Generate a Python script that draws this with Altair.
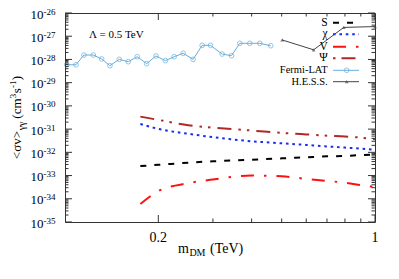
import altair as alt
import pandas as pd

FONT = "Liberation Serif"
W, H = 310, 209

# ---- data ----
m_theory = [0.175, 0.2, 0.25, 0.3, 0.4, 0.5, 0.6, 0.7, 0.8, 0.9, 1.0]
S_vals = [2.57e-33, 2.9e-33, 3.6e-33, 4.1e-33, 4.8e-33, 5.5e-33, 6.1e-33, 6.7e-33, 7.0e-33, 7.6e-33, 8.0e-33]
chi_vals = [1.66e-31, 1.02e-31, 6.3e-32, 4.5e-32, 3.0e-32, 2.45e-32, 2.08e-32, 1.8e-32, 1.6e-32, 1.44e-32, 1.3e-32]
V_vals = [5.9e-35, 2.14e-34, 4.7e-34, 6.8e-34, 1.0e-33, 9.3e-34, 7.2e-34, 5.9e-34, 4.9e-34, 3.9e-34, 3.2e-34]
Psi_vals = [3.45e-31, 2.5e-31, 1.47e-31, 1.15e-31, 8.7e-32, 6.9e-32, 5.9e-32, 5.2e-32, 4.8e-32, 4.3e-32, 3.7e-32]

fermi_m = [0.1013, 0.1085, 0.1151, 0.1234, 0.1313, 0.1396, 0.1496, 0.1600, 0.1710, 0.1834,
           0.1965, 0.2108, 0.2250, 0.2405, 0.2590, 0.2770, 0.2946, 0.3212, 0.3443, 0.3663,
           0.3945, 0.4249, 0.4610]
fermi_sv = [5.9e-29, 5.9e-29, 1.55e-28, 1.55e-28, 1.05e-28, 5.4e-29, 1.01e-28, 8.0e-29, 1.31e-28, 6.6e-29,
            1.41e-28, 8.9e-29, 1.31e-28, 1.84e-28, 1.01e-28, 4.06e-28, 4.06e-28, 1.71e-28, 1.45e-28, 4.96e-28,
            4.96e-28, 4.96e-28, 3.9e-28]

hess_m = [0.502, 0.634, 0.793, 1.0]
hess_sv = [6.9e-28, 2.6e-28, 2.4e-27, 2.6e-27]

y_decades = [-35, -34, -33, -32, -31, -30, -29, -28, -27, -26]
x_ticks = [0.2, 0.3, 0.4, 0.5, 0.6, 0.7, 0.8, 0.9, 1.0]
x_major = [0.2, 1.0]
x_labels = ["0.2", "1"]

legend_names = ["S", "χ", "V", "Ψ", "Fermi-LAT", "H.E.S.S."]
annotation = "Λ = 0.5 TeV"

# ---- scales ----
xs = alt.Scale(type="log", domain=[0.1, 1.0], nice=False)
ys = alt.Scale(type="log", domain=[1e-35, 1e-26], nice=False)
X = lambda f: alt.X(f, scale=xs, axis=None)
Y = lambda f: alt.Y(f, scale=ys, axis=None)

layers = []

BLUE = "#1a2cf0"
CHI_DASH = [2.6, 3.8]

# theory curves
styles = [
    (S_vals, "black", [6, 8], 2.0),
    (chi_vals, BLUE, CHI_DASH, 2.0),
    (V_vals, "#ff1010", [13, 10, 2.5, 10], 2.0),
    (Psi_vals, "#b02828", [14, 7, 2.5, 6, 2.5, 7], 2.0),
]
for vals, col, dash, sw in styles:
    df = pd.DataFrame({"m": m_theory, "sv": vals})
    layers.append(alt.Chart(df).mark_line(color=col, strokeDash=dash, strokeWidth=sw,
                                          interpolate="monotone")
                  .encode(x=X("m:Q"), y=Y("sv:Q")))

# Fermi-LAT
fdf = pd.DataFrame({"m": fermi_m, "sv": fermi_sv})
FCOL = "#66aede"
layers.append(alt.Chart(fdf).mark_line(color=FCOL, strokeWidth=1).encode(x=X("m:Q"), y=Y("sv:Q")))
layers.append(alt.Chart(fdf).mark_point(color=FCOL, shape="circle", filled=False, size=22, strokeWidth=1)
              .encode(x=X("m:Q"), y=Y("sv:Q")))

# H.E.S.S.
hdf = pd.DataFrame({"m": hess_m, "sv": hess_sv})
HCOL = "#444444"
layers.append(alt.Chart(hdf).mark_line(color=HCOL, strokeWidth=1).encode(x=X("m:Q"), y=Y("sv:Q")))
layers.append(alt.Chart(hdf).mark_point(color=HCOL, shape="triangle-up", filled=True, size=14)
              .encode(x=X("m:Q"), y=Y("sv:Q")))

# ---- inward ticks ----
ymaj = pd.DataFrame({"v": [10.0 ** d for d in y_decades]})
ymin = pd.DataFrame({"v": [k * 10.0 ** d for d in y_decades[:-1] for k in range(2, 10)]})
TC = "#333333"
for df, ln in [(ymaj, 7), (ymin, 3.5)]:
    layers.append(alt.Chart(df).mark_rule(color=TC, strokeWidth=1)
                  .encode(y=Y("v:Q"), x=alt.value(0), x2=alt.value(ln)))
    layers.append(alt.Chart(df).mark_rule(color=TC, strokeWidth=1)
                  .encode(y=Y("v:Q"), x=alt.value(W - ln), x2=alt.value(W)))
for v in x_ticks:
    ln = 7 if v in x_major else 3.5
    d = pd.DataFrame({"v": [v]})
    layers.append(alt.Chart(d).mark_rule(color=TC, strokeWidth=1)
                  .encode(x=X("v:Q"), y=alt.value(H - ln), y2=alt.value(H)))
    layers.append(alt.Chart(d).mark_rule(color=TC, strokeWidth=1)
                  .encode(x=X("v:Q"), y=alt.value(0), y2=alt.value(ln)))

# ---- tick labels ----
ylab = pd.DataFrame({"v": [10.0 ** d for d in y_decades],
                     "base": ["10"] * len(y_decades),
                     "exp": [str(d) for d in y_decades]})
layers.append(alt.Chart(ylab).mark_text(font=FONT, fontSize=13, align="right", baseline="middle",
                                        dy=1.5, color="black")
              .encode(y=Y("v:Q"), x=alt.value(-21.5), text="base:N"))
layers.append(alt.Chart(ylab).mark_text(font=FONT, fontSize=9, align="left", baseline="middle",
                                        dy=-1.5, color="black")
              .encode(y=Y("v:Q"), x=alt.value(-21.5), text="exp:N"))
xlab = pd.DataFrame({"v": x_major, "t": x_labels})
layers.append(alt.Chart(xlab).mark_text(font=FONT, fontSize=14, align="center", baseline="middle",
                                        color="black")
              .encode(x=X("v:Q"), y=alt.value(H + 16), text="t:N"))


def txt(s, x, y, size=13, align="left", baseline="alphabetic", angle=0, dy=0, color="black"):
    return (alt.Chart(pd.DataFrame({"t": [s]}))
            .mark_text(font=FONT, fontSize=size, align=align, baseline=baseline, angle=angle,
                       dy=dy, color=color)
            .encode(x=alt.value(x), y=alt.value(y), text="t:N"))


TW = {'<': .564, '>': .564, 'σ': .55, 'v': .5, 'γ': .41, '(': .333, ')': .333,
      'c': .444, 'm': .778, '3': .5, 's': .389, '-': .333, '1': .5, 'D': .722, 'M': .889,
      'T': .611, 'e': .444, 'V': .722}


def width(s, size):
    return sum(TW.get(ch, .5) for ch in s) * size


# y title (rotated, composed of pieces): (text, size, baseline shift, gap before)
ypieces = [("<σv>", 13, 0, 0), ("γγ", 10, 3.5, 0.5), ("(cm", 13, 0, 3.5), ("3", 9, -5.5, 0.3),
           ("s", 13, 0, 0.3), ("-1", 9, -5.5, 0.3), (")", 13, 0, 0.3)]
total = sum(width(s, z) + g for s, z, _, g in ypieces)
pos = H / 2 + total / 2
for s, z, d, g in ypieces:
    pos -= g
    layers.append(txt(s, -44, pos, size=z, angle=270, dy=d))
    pos -= width(s, z)

# x title
xpieces = [("m", 14, 0, 0), ("DM", 10, 3, 0.5), ("(TeV)", 14, 0, 4.5)]
pos = 113
for s, z, d, g in xpieces:
    pos += g
    layers.append(txt(s, pos, 240, size=z, dy=d))
    pos += width(s, z)

# annotation
layers.append(txt(annotation, 24, 22, size=11, baseline="middle"))

# ---- legend ----
row_y = [9.7, 21.3, 33.7, 45.3, 57.3, 68.7]
leg_styles = [("black", [6, 8], 2.0), (BLUE, CHI_DASH, 2.0), ("#ff1010", [13, 10, 2.5, 10], 2.0),
              ("#b02828", [2.5, 6, 14, 7], 2.0), (FCOL, None, 1.0), (HCOL, None, 1.0)]
for name, yy, (col, dash, sw) in zip(legend_names, row_y, leg_styles):
    size = 11.5 if len(name) == 1 else 10.5
    layers.append(txt(name, 262.7, yy, size=size, align="right", baseline="middle"))
    kw = dict(color=col, strokeWidth=sw)
    if dash:
        kw["strokeDash"] = dash
    layers.append(alt.Chart(pd.DataFrame({"t": [name]})).mark_rule(**kw)
                  .encode(x=alt.value(268), x2=alt.value(294), y=alt.value(yy)))
layers.append(alt.Chart(pd.DataFrame({"t": ["Fermi-LAT"]}))
              .mark_point(color=FCOL, shape="circle", filled=False, size=22, strokeWidth=1)
              .encode(x=alt.value(281.7), y=alt.value(row_y[4])))
layers.append(alt.Chart(pd.DataFrame({"t": ["H.E.S.S."]}))
              .mark_point(color=HCOL, shape="triangle-up", filled=True, size=14)
              .encode(x=alt.value(281.7), y=alt.value(row_y[5])))

chart = (alt.layer(*layers)
         .properties(width=W, height=H, autosize="none",
                     padding={"left": 57, "top": 5, "right": 16, "bottom": 50})
         .configure_view(stroke="#333333", strokeWidth=1))

chart.save("out.html", embed_options={"renderer": "svg", "actions": False})
